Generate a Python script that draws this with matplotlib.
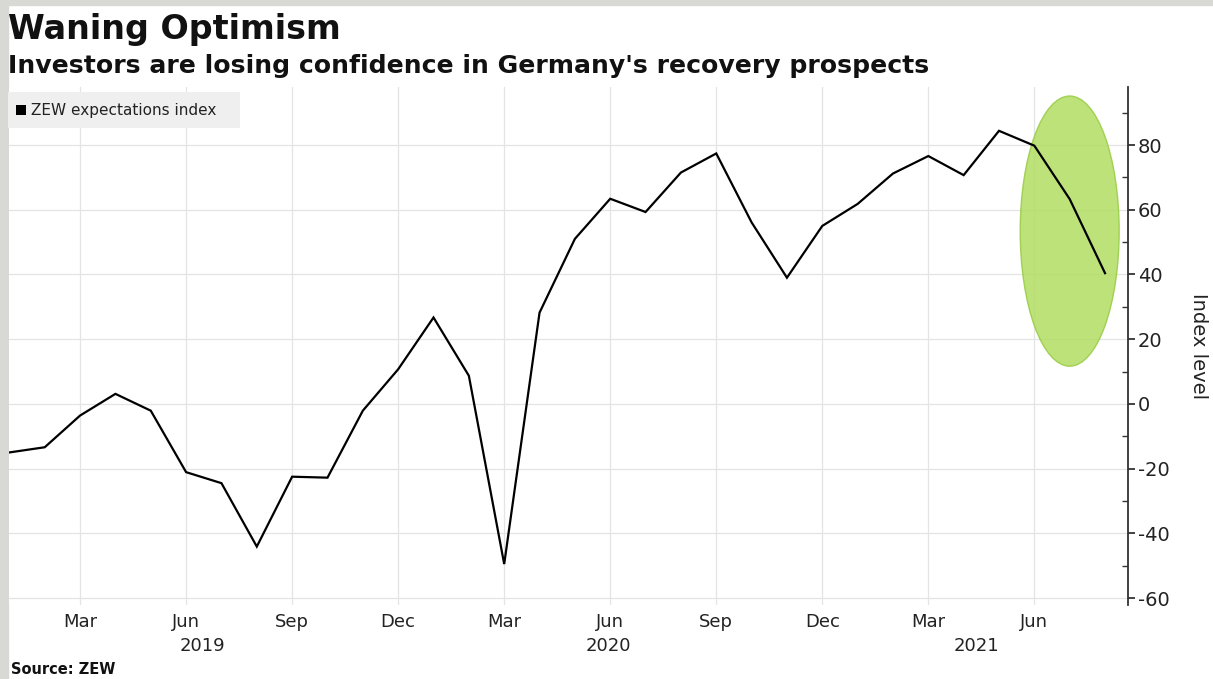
import matplotlib
matplotlib.use("Agg")
import matplotlib.pyplot as plt
from matplotlib.patches import Ellipse, Rectangle
from matplotlib.ticker import MultipleLocator, FixedLocator

plt.rcParams["axes.unicode_minus"] = False

# ZEW expectations index, monthly Jan 2019 .. Aug 2021
months = ["2019-01","2019-02","2019-03","2019-04","2019-05","2019-06","2019-07","2019-08",
          "2019-09","2019-10","2019-11","2019-12","2020-01","2020-02","2020-03","2020-04",
          "2020-05","2020-06","2020-07","2020-08","2020-09","2020-10","2020-11","2020-12",
          "2021-01","2021-02","2021-03","2021-04","2021-05","2021-06","2021-07","2021-08"]
zew = [-15.0, -13.4, -3.6, 3.1, -2.1, -21.1, -24.5, -44.1,
       -22.5, -22.8, -2.1, 10.7, 26.7, 8.7, -49.5, 28.2,
       51.0, 63.4, 59.3, 71.5, 77.4, 56.1, 39.0, 55.0,
       61.8, 71.2, 76.6, 70.7, 84.4, 79.8, 63.3, 40.4]
tick_labels = ["Mar", "Jun", "Sep", "Dec", "Mar", "Jun", "Sep", "Dec", "Mar", "Jun"]
tick_months = ["2019-03","2019-06","2019-09","2019-12","2020-03","2020-06",
               "2020-09","2020-12","2021-03","2021-06"]
years = ["2019", "2020", "2021"]
year_pos = [5.45, 16.95, 27.35]
yticks = [-60, -40, -20, 0, 20, 40, 60, 80]

x = list(range(len(months)))
tick_x = [months.index(m) for m in tick_months]

W, H = 1213, 679
fig = plt.figure(figsize=(W/100, H/100), dpi=100)
fig.patch.set_facecolor("white")

# grey frame
fig.add_artist(Rectangle((0, 0), 8/W, 1, transform=fig.transFigure, color="#d8d8d4", zorder=0))
fig.add_artist(Rectangle((0, 1-5/H), 1, 5/H, transform=fig.transFigure, color="#d8d8d4", zorder=0))

left, right = 9.4/W, 1128/W
top, bottom = 1-86.8/H, 1-604.5/H
ax = fig.add_axes([left, bottom, right-left, top-bottom])
ax.set_xlim(0, 31.65)
ax.set_ylim(-62, 98)

ax.plot(x, zew, color="black", lw=1.6, zorder=3, solid_joinstyle="miter")

# highlight ellipse
ell = Ellipse((30.0, 53.4), 2.8, 83.5, facecolor="#b2dd62", edgecolor="#98cb44",
              lw=1.0, alpha=0.85, zorder=2)
ax.add_patch(ell)

for s in ["top", "left", "bottom"]:
    ax.spines[s].set_visible(False)
ax.spines["right"].set_color("#333333")
ax.spines["right"].set_linewidth(1.3)

ax.yaxis.tick_right()
ax.yaxis.set_major_locator(FixedLocator(yticks))
ax.yaxis.set_minor_locator(MultipleLocator(10))
ax.tick_params(axis="y", which="major", direction="out", length=5, width=1.2,
               labelsize=14, pad=2, colors="#222222")
ax.tick_params(axis="y", which="minor", direction="in", length=4, width=1, colors="#333333")
ax.set_xticks(tick_x)
ax.set_xticklabels(tick_labels)
ax.tick_params(axis="x", length=0, labelsize=13, pad=6, colors="#222222")

ax.grid(True, which="major", color="#e4e4e4", lw=0.9, zorder=0)

for yr, p in zip(years, year_pos):
    ax.text(p, -0.0805, yr, transform=ax.get_xaxis_transform(), ha="center", va="center",
            fontsize=13, color="#222222")

ax.yaxis.set_label_position("right")
ax.set_ylabel("Index level", rotation=-90, fontsize=14, labelpad=28, color="#222222")

# legend box
fig.add_artist(Rectangle((8/W, 1-128/H), 232/W, 36/H, transform=fig.transFigure,
                         facecolor="#efefef", edgecolor="none", zorder=5))
fig.add_artist(Rectangle((16/W, 1-115/H), 10/W, 10/H, transform=fig.transFigure,
                         facecolor="black", edgecolor="none", zorder=6))
fig.text(31/W, 1-110/H, "ZEW expectations index", fontsize=11, va="center", ha="left",
         color="#222222", zorder=6)

fig.text(8/W, 1-30/H, "Waning Optimism", fontsize=24, fontweight="bold", va="center",
         ha="left", color="#111111")
fig.text(8/W, 1-66/H, "Investors are losing confidence in Germany's recovery prospects",
         fontsize=18.1, fontweight="bold", va="center", ha="left", color="#111111")
fig.text(11/W, 1-669/H, "Source: ZEW", fontsize=10.5, fontweight="bold", va="center",
         ha="left", color="#111111")

fig.savefig("out.png", dpi=100)
